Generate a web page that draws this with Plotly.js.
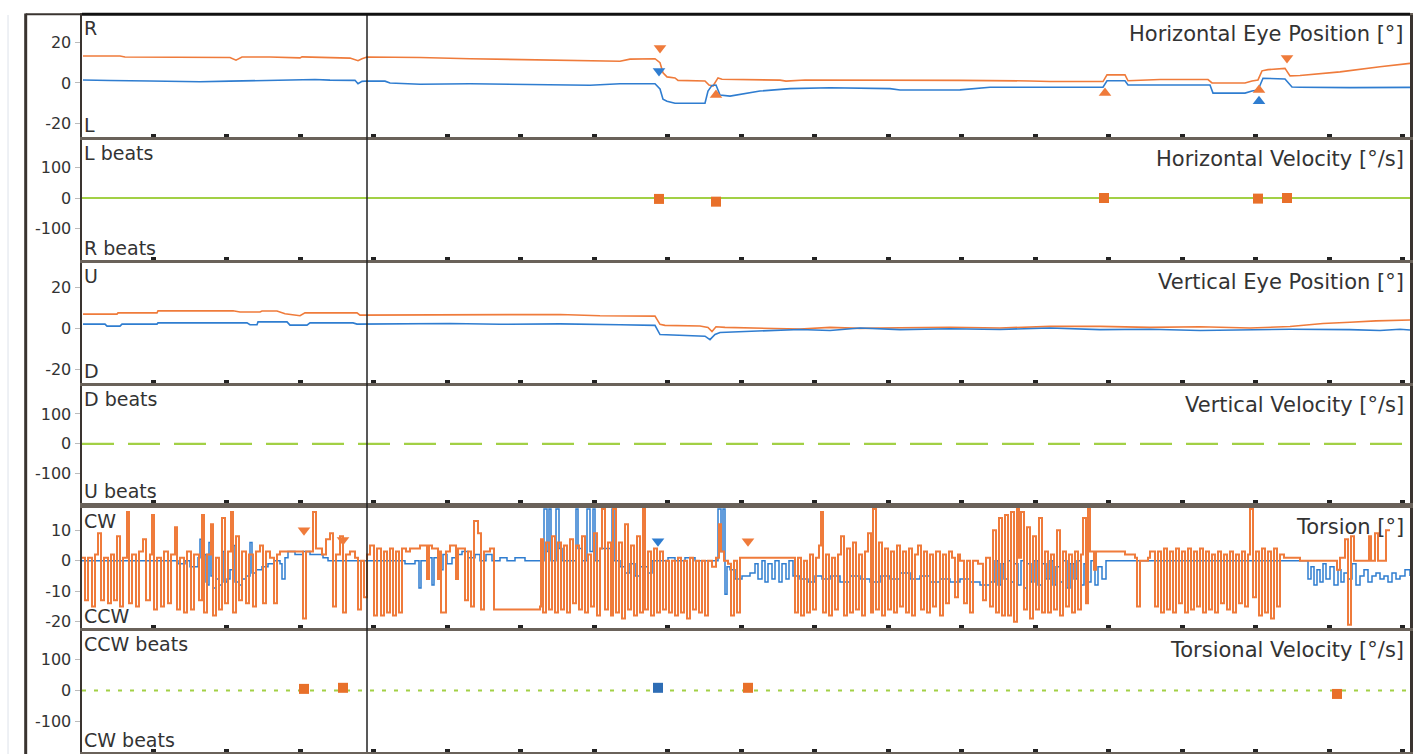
<!DOCTYPE html>
<html><head><meta charset="utf-8">
<script src="https://cdn.plot.ly/plotly-3.0.1.min.js"></script>
<style>html,body{margin:0;padding:0;background:#fff;}#c{width:1418px;height:754px;}</style>
</head><body><div id="c"></div>
<script>
// x = sample index (time), y = degrees or deg/s
const hPosRight = [[83,13.3],[120,13.3],[125,12.8],[190,12.8],[230,12.6],[236,11.3],[242,12.8],[270,12.8],[300,12.4],[302,12.9],[350,12.3],[358,11.0],[362,12.0],[367,12.8],[420,12.6],[470,12.0],[520,11.6],[580,11.0],[620,10.7],[630,11.8],[655,12.0],[660,10.0],[663,5.0],[667,3.0],[675,2.5],[678,1.3],[705,1.0],[709,-1.0],[713,-1.5],[718,2.5],[722,1.8],[780,1.4],[786,0.9],[805,1.5],[900,1.5],[960,1.3],[1030,1.0],[1050,0.7],[1103,0.7],[1107,4.0],[1125,4.0],[1128,1.1],[1160,1.7],[1208,1.7],[1212,0.0],[1245,0.0],[1252,1.0],[1258,1.5],[1262,6.0],[1268,6.6],[1285,7.2],[1290,3.5],[1300,3.7],[1340,5.5],[1380,8.0],[1410,9.7]];
const hPosLeft = [[83,1.5],[100,1.5],[110,1.2],[150,1.0],[180,0.8],[200,0.6],[230,0.9],[280,1.2],[300,1.6],[315,1.7],[330,1.4],[355,1.3],[358,-0.4],[362,0.8],[367,1.0],[385,0.9],[390,0.0],[420,-0.6],[470,-0.4],[530,-0.6],[590,-1.1],[620,-0.4],[655,-0.4],[660,-3.0],[663,-8.0],[667,-9.0],[675,-10.0],[705,-10.0],[708,-4.0],[712,-1.2],[716,-1.0],[720,-6.0],[730,-6.5],[760,-4.0],[790,-2.8],[830,-2.4],[890,-2.8],[900,-3.5],[960,-3.4],[990,-2.1],[1103,-2.1],[1107,1.1],[1125,1.1],[1128,-1.0],[1210,-1.0],[1213,-5.0],[1245,-5.0],[1252,-4.0],[1258,-3.5],[1263,2.3],[1285,2.0],[1292,-2.0],[1300,-2.1],[1350,-2.3],[1410,-2.2]];
const hMarkOrangeDown = [[660,17.3],[1287,12.3]];
const hMarkOrangeUp = [[716,-5.9],[1105,-5.0],[1259,-3.5]];
const hMarkBlueDown = [[659,5.9]];
const hMarkBlueUp = [[1259,-9.0]];
const hVelBeats = [[659,-3],[716,-12],[1104,0],[1258,-2],[1287,0]];

const vPosRight = [[83,7.0],[117,7.0],[118,7.6],[157,7.6],[158,8.6],[233,8.6],[240,8.0],[260,8.0],[262,8.5],[277,8.5],[285,7.2],[300,6.2],[305,7.6],[357,7.6],[360,6.5],[400,6.5],[450,6.8],[500,6.5],[560,6.8],[600,6.2],[655,6.0],[660,2.0],[665,1.5],[700,1.2],[708,0.5],[712,-1.5],[716,0.8],[725,0.5],[760,0.2],[800,-0.3],[830,0.5],[860,0],[900,0.3],[950,0.6],[1000,0.2],[1050,1.0],[1100,1.0],[1150,0.5],[1200,0.8],[1250,0.2],[1290,0.9],[1323,2.4],[1350,3.0],[1376,3.7],[1410,4.1]];
const vPosLeft = [[83,2.1],[105,2.1],[107,1.1],[120,1.1],[122,2.1],[157,2.1],[158,2.7],[247,2.7],[250,1.8],[257,1.8],[258,3.2],[287,3.2],[290,1.6],[307,1.6],[310,2.7],[353,2.7],[357,2.1],[400,2.1],[450,2.4],[500,2.0],[560,2.2],[620,1.8],[655,1.5],[660,-3.0],[690,-3.5],[705,-3.8],[710,-5.5],[715,-3.0],[720,-2.0],[760,-1.2],[800,-0.5],[830,-1.0],[860,0.2],[900,-0.6],[950,-0.2],[1000,-0.5],[1050,0.2],[1100,-0.6],[1150,-0.4],[1200,-1.0],[1250,-0.5],[1290,-0.4],[1350,-0.6],[1380,-1.0],[1400,-0.4],[1410,-0.8]];

// torsion: step data (value holds from x until next x)
const torOrange = [[82,1],[85,-13],[88,1],[92,-15],[95,2],[98,9],[101,-13],[104,1],[108,-14],[111,2],[114,-13],[117,8],[120,-15],[123,1],[127,16],[129,-14],[132,2],[136,-15],[139,3],[143,7],[146,-13],[150,2],[152,15],[154,-16],[157,1],[161,-15],[164,3],[168,-14],[171,2],[175,11],[177,-16],[180,1],[184,-17],[187,3],[191,-16],[194,2],[199,-13],[202,15],[204,-17],[207,2],[211,12],[213,-18],[216,1],[219,-16],[222,14],[225,-14],[228,3],[231,16],[233,-17],[236,8],[239,-13],[242,3],[246,-14],[249,2],[253,-15],[256,3],[260,5],[263,-14],[266,3],[270,1],[274,-14],[277,2],[280,3],[303,-19],[306,3],[313,16],[316,4],[322,2],[326,7],[330,9],[333,-15],[336,2],[340,8],[343,-17],[346,2],[350,3],[355,1],[358,-16],[361,0],[364,-12],[367,2],
[370,5],[374,-18],[377,4],[381,-18],[384,3],[387,-17],[390,4],[393,-18],[396,3],[399,-17],[402,4],[406,3],[410,4],[420,5],[427,-6],[429,5],[432,4],[438,-6],[440,3],[441,-17],[446,3],[450,5],[456,-6],[458,4],[465,-13],[468,3],[471,-15],[474,13],[478,9],[481,-16],[484,3],[490,4],[494,-16],[540,-15],[541,7],[543,-17],[546,6],[549,-16],[552,8],[555,-17],[558,6],[561,-16],[564,5],[567,-17],[570,7],[573,-14],[576,5],[579,-16],[582,8],[585,-17],[588,2],[591,-15],[594,9],[597,-18],[600,4],[602,17],[605,-16],[608,6],[611,-18],[613,17],[616,-17],[619,6],[622,-19],[625,12],[628,-16],[631,5],[634,-18],[637,8],[640,-17],[643,17],[645,-16],[648,3],[651,-18],[654,4],[657,-17],
[660,3],[663,-16],[666,0],[669,-17],[672,0],[675,-18],[678,1],[681,-17],[684,0],[687,-19],[690,1],[693,-16],[696,0],[699,-17],[702,0],[705,-18],[708,0],[712,-2],[716,1],[719,12],[721,3],[724,0],[728,-1],[731,-18],[734,0],[737,-17],[740,1],[790,1],[795,-17],[798,1],[801,-18],[804,0],[807,-17],[810,2],[813,-16],[816,1],[819,5],[821,16],[823,-17],[826,2],[829,-18],[832,1],[835,-16],[838,2],[841,8],[844,-18],[847,4],[850,-17],[853,6],[856,-16],[859,2],[862,-18],[865,3],[868,9],[871,-17],[873,17],[876,-16],[879,6],[882,-18],[885,4],[888,-16],[891,3],[894,-17],[897,5],[900,-15],[903,3],[906,-17],[909,4],[912,-18],[915,2],[918,5],[921,-16],[924,3],[927,-17],[930,2],[933,-15],[936,3],[940,-18],[943,2],[946,-14],[949,3],[952,1],[955,-12],[958,2],
[960,0],[964,-14],[967,0],[970,-17],[973,0],[978,-1],[983,-13],[986,1],[990,-15],[993,10],[996,-17],[999,14],[1002,-18],[1005,15],[1008,-18],[1011,16],[1014,-20],[1017,17],[1019,1],[1021,16],[1024,-16],[1027,11],[1030,-19],[1033,8],[1036,-16],[1039,14],[1042,-17],[1045,3],[1048,-17],[1051,2],[1054,-16],[1057,10],[1060,-18],[1063,3],[1066,-15],[1069,2],[1072,-17],[1075,3],[1078,-16],[1081,2],[1083,14],[1086,-14],[1088,17],[1090,3],[1094,-3],[1096,3],[1125,2],[1135,1],[1137,-15],[1140,0],[1148,1],[1150,3],[1155,-15],[1158,3],[1161,-17],[1164,4],[1167,-16],[1170,3],[1173,-17],[1176,4],[1179,-14],[1182,3],[1185,-17],[1188,4],[1191,-16],[1194,3],[1197,-15],[1200,4],[1203,-17],[1206,3],[1209,-16],[1212,2],[1215,-17],[1218,3],[1221,-14],[1224,2],[1227,-16],[1230,3],[1233,-17],[1236,2],[1239,-14],[1242,3],[1245,-15],[1248,2],[1250,17],[1253,-12],
[1256,3],[1259,-18],[1262,4],[1265,-17],[1268,3],[1271,-19],[1274,4],[1277,-15],[1280,2],[1284,1],[1300,0],[1337,-3],[1340,1],[1345,7],[1348,-21],[1351,8],[1354,0],[1369,8],[1371,0],[1375,9],[1378,0],[1386,10],[1390,10]];
const torBlue = [[82,0],[175,0],[178,-1],[185,0],[190,-2],[198,1],[200,7],[202,-7],[205,2],[207,-8],[209,6],[211,-5],[213,-9],[216,-6],[219,-8],[222,3],[224,-7],[227,-6],[230,-3],[233,5],[235,-7],[239,-8],[242,-6],[246,-5],[250,6],[252,-4],[256,-3],[262,-2],[268,-1],[274,0],[280,-1],[282,-6],[285,1],[288,3],[295,2],[303,3],[310,2],[318,2],[323,1],[328,0],[405,-1],[415,0],[419,-9],[421,0],[428,1],[432,-8],[434,1],[440,-3],[443,2],[447,-1],[452,1],[458,2],[462,3],[468,1],[475,2],[480,0],[486,2],[492,0],[500,1],[507,0],[515,1],[525,0],[544,17],[547,3],[549,17],[551,0],[556,17],[559,4],[562,0],[576,17],[578,4],[582,0],[587,17],[590,3],[593,17],[595,0],[600,4],[612,17],[614,0],[620,-2],[625,-4],[630,-1],[635,-5],[640,-2],[648,-4],[652,0],[668,1],[675,0],[685,1],[695,0],[718,17],[721,3],[723,17],[725,-11],[727,-2],[730,-3],[735,-6],[742,-5],[750,-4],[755,-1],[758,-6],[762,0],[765,-7],[768,-1],[772,-6],[775,0],[779,-7],[782,-1],[786,-6],[789,0],[793,-5],[800,-6],[808,-7],[815,-5],[822,-6],[830,-5],[840,-7],[850,-5],[860,-6],[870,-7],[880,-5],[890,-6],[900,-4],[910,-6],[920,-5],[930,-7],[940,-6],[950,-7],[960,-6],[970,-7],[980,-8],[990,-7],[995,0],[998,-8],[1001,-1],[1004,-6],[1008,0],[1011,-7],[1014,-1],[1018,-8],[1021,0],[1024,-9],[1027,-1],[1031,-7],[1034,0],[1038,-8],[1042,-1],[1046,-6],[1050,0],[1053,-8],[1056,-2],[1060,-7],[1063,0],[1067,-9],[1070,-1],[1074,-6],[1077,0],[1081,-8],[1084,-1],[1088,-7],[1091,0],[1095,-8],[1098,-2],[1102,-6],[1106,0],[1305,0],[1308,-6],[1311,-2],[1314,-8],[1317,-3],[1320,-7],[1323,-1],[1326,-6],[1330,-2],[1334,-8],[1338,-3],[1341,-7],[1344,-4],[1348,-6],[1352,-1],[1356,-8],[1360,-5],[1364,-3],[1368,-7],[1372,-5],[1376,-4],[1380,-6],[1384,-5],[1388,-7],[1392,-4],[1396,-6],[1400,-5],[1405,-3],[1410,-5]];
const torMarkOrange = [[304,10.0],[343,6.8],[748,6.4]];
const torMarkBlue = [[658,6.4]];
const torVelOrange = [[304,5.5],[343,9],[748,9],[1337,-11]];
const torVelBlue = [[658,9]];

const zeroLineX = [82,1410];
const zeroLineY = [0,0];

const panelTitles = ["Horizontal Eye Position [°]","Horizontal Velocity [°/s]","Vertical Eye Position [°]","Vertical Velocity [°/s]","Torsion [°]","Torsional Velocity [°/s]"];
const topLabels = ["R","L beats","U","D beats","CW","CCW beats"];
const bottomLabels = ["L","R beats","D","U beats","CCW","CW beats"];
const yTicks = [[-20,0,20],[-100,0,100],[-20,0,20],[-100,0,100],[-20,-10,0,10],[-100,0,100]];
const yTickText = [["-20","0","20"],["-100","0","100"],["-20","0","20"],["-100","0","100"],["-20","-10","0","10"],["-100","0","100"]];
const yRanges = [[-26.7,33.6],[-203,190],[-26.7,32],[-197,193],[-22.1,17.3],[-200,194]];
const domains = [[0.8345,1],[0.6676,0.8304],[0.5007,0.6635],[0.3379,0.4966],[0.1682,0.3311],[0,0.1642]];

const ORANGE = '#ef7b3b', BLUE = '#2f7dd0', GREEN = '#a2d045';
const xs = a => a.map(p => p[0]), ys = a => a.map(p => p[1]);
const traces = [];
function line(d, ax, color, shape, w) {
  traces.push({x: xs(d), y: ys(d), xaxis: ax[0], yaxis: ax[1], mode: 'lines', line: {color, width: w || 1.6, shape: shape || 'linear'}, hoverinfo: 'skip'});
}
function marks(d, ax, color, symbol, size) {
  traces.push({x: xs(d), y: ys(d), xaxis: ax[0], yaxis: ax[1], mode: 'markers', marker: {color, symbol, size: size || 9, line: {width: 0}}, hoverinfo: 'skip'});
}
const A = i => i === 0 ? ['x','y'] : ['x' + (i+1), 'y' + (i+1)];

line(hPosRight, A(0), ORANGE);
line(hPosLeft, A(0), BLUE);
marks(hMarkOrangeDown, A(0), ORANGE, 'triangle-down', 11);
marks(hMarkOrangeUp, A(0), ORANGE, 'triangle-up', 11);
marks(hMarkBlueDown, A(0), BLUE, 'triangle-down', 11);
marks(hMarkBlueUp, A(0), BLUE, 'triangle-up', 11);

traces.push({x: zeroLineX, y: zeroLineY, xaxis: 'x2', yaxis: 'y2', mode: 'lines', line: {color: GREEN, width: 2}, hoverinfo: 'skip'});
marks(hVelBeats, A(1), '#e8702a', 'square', 10);

line(vPosRight, A(2), ORANGE);
line(vPosLeft, A(2), BLUE);

traces.push({x: zeroLineX, y: zeroLineY, xaxis: 'x4', yaxis: 'y4', mode: 'lines', line: {color: GREEN, width: 2.2, dash: '32px,14px'}, hoverinfo: 'skip'});

line(torBlue, A(4), BLUE, 'hv', 1.5);
line(torOrange, A(4), ORANGE, 'hv', 2);
marks(torMarkOrange, A(4), ORANGE, 'triangle-down', 11);
marks(torMarkBlue, A(4), BLUE, 'triangle-down', 11);

traces.push({x: zeroLineX, y: zeroLineY, xaxis: 'x6', yaxis: 'y6', mode: 'lines', line: {color: GREEN, width: 2, dash: '4px,8px'}, hoverinfo: 'skip'});
marks(torVelOrange, A(5), '#e8702a', 'square', 10);
marks(torVelBlue, A(5), '#2e6db5', 'square', 10);

const FONT = 'DejaVu Sans, Arial, sans-serif';
const layout = {
  width: 1418, height: 754,
  margin: {l: 82, r: 8, t: 15, b: 2},
  paper_bgcolor: '#fff', plot_bgcolor: '#fff',
  showlegend: false,
  font: {family: FONT, color: '#333'},
  annotations: [], shapes: []
};
for (let i = 0; i < 6; i++) {
  const xk = i === 0 ? 'xaxis' : 'xaxis' + (i+1);
  const yk = i === 0 ? 'yaxis' : 'yaxis' + (i+1);
  const xr = i === 0 ? 'x' : 'x' + (i+1);
  const yr = i === 0 ? 'y' : 'y' + (i+1);
  layout[xk] = {range: [82, 1410], anchor: yr, showgrid: false, zeroline: false,
    showticklabels: false, ticks: 'inside', ticklen: 3, tickwidth: 5, tickcolor: '#222',
    tick0: 153, dtick: 73.5, showline: true, mirror: true, linecolor: '#6a625a', linewidth: 2.5};
  if (i > 0) layout[xk].matches = 'x';
  layout[yk] = {domain: domains[i], range: yRanges[i], anchor: xr, showgrid: false, zeroline: false,
    tickvals: yTicks[i], ticktext: yTickText[i], ticks: 'outside', ticklen: 5, tickcolor: '#bbb', tickwidth: 1,
    tickfont: {family: FONT, size: 16, color: '#333'}, showline: true, mirror: true,
    linecolor: '#3a3430', linewidth: 2.5};
  layout.annotations.push({xref: xr + ' domain', yref: yr + ' domain', x: 1, y: 1, xanchor: 'right', yanchor: 'top',
    xshift: -4, yshift: -5, text: panelTitles[i], showarrow: false, font: {family: FONT, size: 21, color: '#333'}});
  layout.annotations.push({xref: xr + ' domain', yref: yr + ' domain', x: 0, y: 1, xanchor: 'left', yanchor: 'top',
    xshift: 0, yshift: 0, text: topLabels[i], showarrow: false, font: {family: FONT, size: 19, color: '#333'}});
  layout.annotations.push({xref: xr + ' domain', yref: yr + ' domain', x: 0, y: 0, xanchor: 'left', yanchor: 'bottom',
    xshift: 0, yshift: -1, text: bottomLabels[i], showarrow: false, font: {family: FONT, size: 19, color: '#333'}});
}
// divider line across all panels
layout.shapes.push({type: 'line', xref: 'x', yref: 'paper', x0: 367, x1: 367, y0: 0, y1: 1, line: {color: '#222', width: 1.5}});
// outer frame at left
layout.shapes.push({type: 'line', xref: 'paper', yref: 'paper', x0: -0.0424, x1: -0.0424, y0: -0.01, y1: 1.002, line: {color: '#3a3430', width: 3}});
layout.shapes.push({type: 'line', xref: 'paper', yref: 'paper', x0: -0.0424, x1: 0, y0: 1.001, y1: 1.001, line: {color: '#3a3430', width: 2}});
layout.shapes.push({type: 'line', xref: 'paper', yref: 'paper', x0: -0.0557, x1: -0.0557, y0: -0.01, y1: 1.0, line: {color: '#dde3ea', width: 1}});
layout.shapes.push({type: 'line', xref: 'paper', yref: 'paper', x0: 0, x1: 1, y0: 1.001, y1: 1.001, line: {color: '#111', width: 3}});

Plotly.newPlot('c', traces, layout, {staticPlot: true});
</script>
</body></html>
